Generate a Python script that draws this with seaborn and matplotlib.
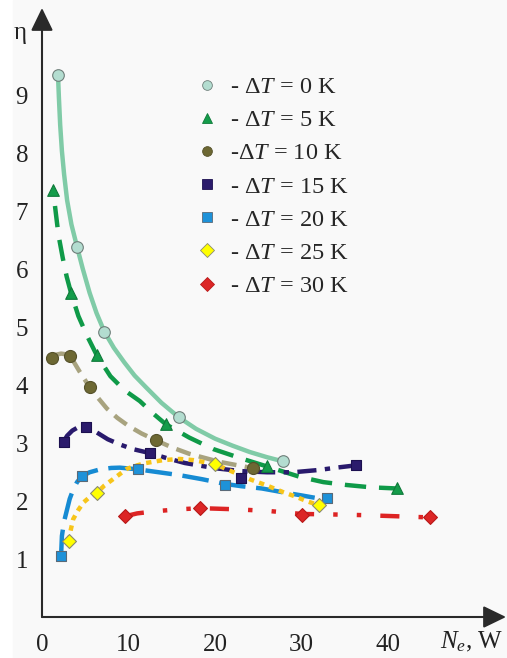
import matplotlib
matplotlib.use("Agg")
import matplotlib.pyplot as plt
from matplotlib.lines import Line2D
from matplotlib.patches import Rectangle
import seaborn as sns

# measured points (markers)
x0 = [1.85, 4.04, 7.2, 15.8, 27.8]
y0 = [9.36, 6.40, 4.93, 3.45, 2.69]
x5 = [1.3, 3.35, 6.3, 14.3, 26.0, 41.0]
y5 = [7.38, 5.6, 4.53, 3.33, 2.6, 2.22]
x10 = [1.1, 3.2, 5.5, 13.2, 24.4]
y10 = [4.48, 4.5, 3.97, 3.05, 2.57]
x15 = [2.5, 5.1, 12.5, 23.0, 36.3]
y15 = [3.03, 3.29, 2.83, 2.4, 2.62]
x20 = [2.2, 4.6, 11.1, 21.1, 32.9]
y20 = [1.05, 2.43, 2.55, 2.28, 2.05]
x25 = [3.1, 6.3, 20.0, 32.0]
y25 = [1.31, 2.14, 2.64, 1.93]
x30 = [9.6, 18.3, 30.0, 44.8]
y30 = [1.74, 1.88, 1.77, 1.72]

# fitted curves
cx0 = [1.85, 1.95, 2.1, 2.3, 2.55, 2.9, 3.4, 4.04, 4.7, 5.5, 6.3, 7.2, 8.3,
       9.5, 10.7, 12.0, 13.8, 15.8, 17.8, 20.0, 22.0, 24.0, 26.0, 27.8]
cy0 = [9.36, 8.98, 8.5, 8.05, 7.65, 7.2, 6.78, 6.40, 6.02, 5.6, 5.25, 4.93, 4.65,
       4.4, 4.17, 3.97, 3.7, 3.45, 3.25, 3.08, 2.96, 2.85, 2.76, 2.69]
cx5 = [1.5, 1.9, 2.4, 2.85, 3.35, 4.2, 5.2, 6.3, 7.9, 9.5, 11.3, 12.8, 14.3,
       17.0, 19.8, 23.0, 26.0, 29.8, 32.5, 35.2, 38.0, 41.0]
cy5 = [7.1, 6.6, 6.2, 5.88, 5.6, 5.2, 4.86, 4.53, 4.16, 3.92, 3.73, 3.52, 3.33,
       3.1, 2.9, 2.74, 2.6, 2.42, 2.33, 2.28, 2.24, 2.22]
cx10 = [1.1, 1.6, 2.2, 2.7, 3.2, 3.7, 4.3, 5.5, 6.5, 7.5, 8.7, 10.0, 11.5,
        13.2, 15.0, 17.0, 20.5, 24.4]
cy10 = [4.48, 4.53, 4.55, 4.54, 4.5, 4.4, 4.25, 3.97, 3.78, 3.6, 3.44, 3.3, 3.17,
        3.05, 2.93, 2.82, 2.68, 2.57]
cx15 = [2.5, 2.9, 3.5, 4.2, 5.1, 6.2, 7.6, 9.0, 10.5, 12.5, 14.5, 16.5, 20.0,
        23.0, 26.0, 29.0, 32.0, 34.0, 36.3]
cy15 = [3.03, 3.13, 3.22, 3.28, 3.29, 3.2, 3.07, 2.98, 2.9, 2.83, 2.74, 2.66, 2.57,
        2.52, 2.5, 2.5, 2.54, 2.58, 2.62]
cx20 = [2.2, 2.25, 2.3, 2.55, 2.9, 3.2, 3.6, 4.05, 4.6, 5.5, 6.7, 8.0, 9.0, 11.1,
        13.5, 15.9, 18.5, 21.1, 23.0, 25.4, 28.0, 30.0, 31.5]
cy20 = [1.05, 1.22, 1.4, 1.65, 1.86, 2.04, 2.2, 2.33, 2.43, 2.5, 2.55, 2.575, 2.58,
        2.55, 2.5, 2.45, 2.38, 2.3, 2.26, 2.22, 2.15, 2.1, 2.06]
cx25 = [3.1, 3.3, 3.6, 4.2, 4.8, 5.5, 6.3, 7.2, 8.2, 9.8, 11.0, 12.0, 14.0, 15.9,
        17.5, 20.0, 22.0, 24.0, 26.0, 27.8, 29.3, 30.6, 32.0]
cy25 = [1.31, 1.49, 1.69, 1.85, 1.98, 2.07, 2.14, 2.27, 2.38, 2.56, 2.62, 2.66, 2.71, 2.73,
        2.71, 2.64, 2.51, 2.38, 2.27, 2.16, 2.08, 2.0, 1.93]
cx30 = [9.6, 11.0, 13.3, 15.8, 18.3, 22.5, 26.3, 30.0, 34.0, 37.0, 41.0, 44.8]
cy30 = [1.74, 1.79, 1.83, 1.86, 1.88, 1.86, 1.83, 1.78, 1.77, 1.76, 1.74, 1.72]

labels = [r"- $\Delta T$ = 0 K", r"- $\Delta T$ = 5 K", r"-$\Delta T$ = 10 K",
          r"- $\Delta T$ = 15 K", r"- $\Delta T$ = 20 K", r"- $\Delta T$ = 25 K",
          r"- $\Delta T$ = 30 K"]

sns.set_style("white")
plt.rcParams["font.family"] = ["Liberation Serif", "DejaVu Serif"]
plt.rcParams["mathtext.fontset"] = "custom"
plt.rcParams["mathtext.rm"] = "Liberation Serif"
plt.rcParams["mathtext.it"] = "Liberation Serif:italic"

fig = plt.figure(figsize=(5.07, 6.58), dpi=100)
fig.patch.set_facecolor("white")
fig.patches.append(Rectangle((13 / 507, 0), 1, 1, transform=fig.transFigure,
                             color="#f9f9f9", zorder=-10))
ax = fig.add_axes([42 / 507, 1 - 617 / 658, (506 - 42) / 507, (617 - 8) / 658])
ax.set_facecolor("none")

series = [
    # curve x, curve y, pts x, pts y, line colour, dashes, marker, face, edge, size
    (cx0, cy0, x0, y0, "#80cba7", "-", "o", "#b3ddd0", "#6f7f7a", 70),
    (cx5, cy5, x5, y5, "#0f9a48", (0, (4.8, 2.9)), "^", "#149c4a", "#0f7a3a", 70),
    (cx10, cy10, x10, y10, "#a8a37f", (0, (3.4, 1.9)), "o", "#6d6833", "#55512a", 75),
    (cx15, cy15, x15, y15, "#291a6d", (0, (4.3, 1.9, 1.2, 1.9)), "s", "#2b1b6c", "#1c1050", 60),
    (cx20, cy20, x20, y20, "#168bd3", (0, (6, 2.4)), "s", "#1e92d9", "#5a6a78", 60),
    (cx25, cy25, x25, y25, "#f7c51a", (0, (1.2, 1.2)), "D", "#ffff00", "#8a8a70", 50),
    (cx30, cy30, x30, y30, "#dd2424", (0, (4.3, 4.3, 1, 4.3, 1, 4.3)), "D", "#dc2626", "#b81a1a", 50),
]

handles = []
for cx, cy, px, py, lc, ls, mk, fc, ec, sz in series:
    sns.lineplot(x=cx, y=cy, ax=ax, color=lc, linewidth=3.2, linestyle=ls,
                 sort=False, estimator=None, solid_capstyle="butt",
                 dash_capstyle="butt", solid_joinstyle="round", zorder=2)
    sns.scatterplot(x=px, y=py, ax=ax, marker=mk, s=sz, color=fc,
                    edgecolor=ec, linewidth=0.8, zorder=3)
    handles.append(Line2D([], [], ls="none", marker=mk, markersize=7,
                          markerfacecolor=fc, markeredgecolor=ec, markeredgewidth=0.6))

ax.set_xlim(0, 53.6)
ax.set_ylim(0, 10.52)
ax.set_xticks([0, 10, 20, 30, 40, 50])
ax.set_xticklabels(["0", "10", "20", "30", "40", ""])
ax.set_yticks(range(1, 10))
ax.tick_params(direction="in", length=7, width=1.4, color="#333333",
               labelsize=18, labelcolor="#222222")
ax.tick_params(axis="x", pad=12)
ax.tick_params(axis="y", pad=10)
for s in ax.spines.values():
    s.set_visible(False)

arrow = dict(arrowstyle="-|>,head_length=0.7,head_width=0.34", color="#2a2a2a",
             lw=1.5, shrinkA=0, shrinkB=0, mutation_scale=20)
ax.annotate("", xy=(0, 1), xytext=(0, 0), xycoords="axes fraction", arrowprops=arrow)
ax.annotate("", xy=(1, 0), xytext=(0, 0), xycoords="axes fraction", arrowprops=arrow)

fig.text(20 / 507, 1 - 33 / 658, "η", fontsize=18, ha="center", va="center", color="#222222")
fig.text(440 / 507, 1 - 648 / 658, r"$N_e$, W", fontsize=18, ha="left",
         va="baseline", color="#222222")

leg = ax.legend(handles, labels, loc="upper left", bbox_to_anchor=(196 / 507, 1 - 76 / 658),
                bbox_transform=fig.transFigure, frameon=False, fontsize=17.5,
                handlelength=0.9, handletextpad=0.5, labelspacing=0.46, borderpad=0,
                borderaxespad=0)

fig.savefig("out.png", dpi=100)
